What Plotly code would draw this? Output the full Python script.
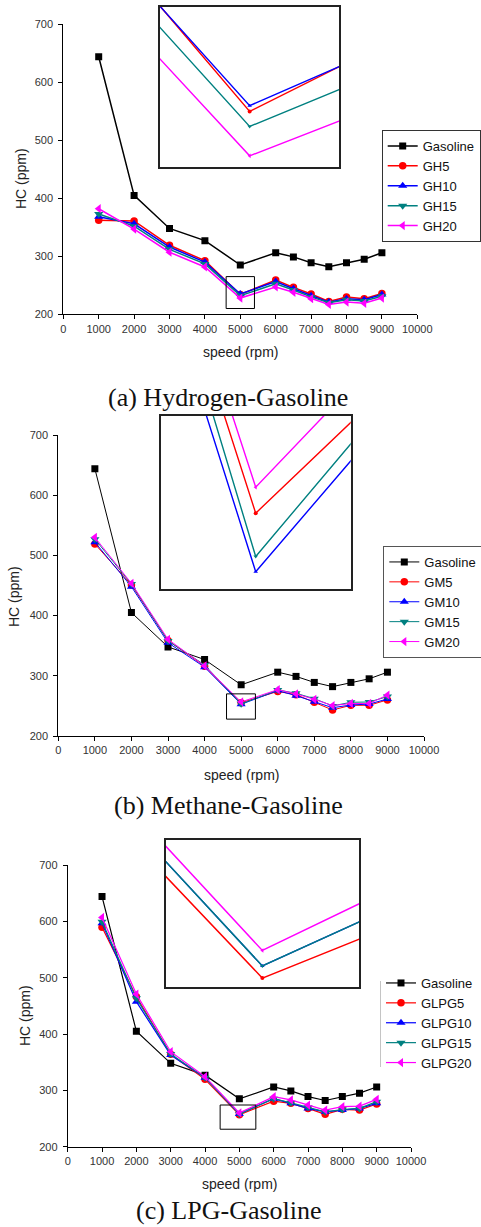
import plotly.graph_objects as go

W, H = 481, 1227

# ---------------- data ----------------
speed = [1000, 2000, 3000, 4000, 5000, 6000, 6500, 7000, 7500, 8000, 8500, 9000]
gasoline = [644, 405, 348, 327, 285, 306, 299, 289, 282, 289, 295, 306]

gh5 = [362, 361, 319, 292.5, 234.2, 259, 246.5, 235, 222, 230, 227, 236]
gh10 = [368, 356, 316, 290, 235, 256.6, 244, 232, 221, 227, 225, 234]
gh15 = [373, 352, 312, 286.9, 232.1, 252.5, 242, 230, 220, 225, 223, 231]
gh20 = [382, 347, 307, 281.6, 228, 247.2, 238, 227, 217, 221, 219, 228]

gm5 = [519, 451, 358.5, 316, 255.4, 274, 268.7, 256, 243.2, 251, 251, 260]
gm10 = [522, 448, 355, 314.4, 252.7, 275.4, 267, 257, 247, 251.5, 253, 261.5]
gm15 = [527, 452.5, 358, 318, 253.4, 276.5, 271, 262, 250, 256, 256.5, 265.5]
gm20 = [530, 453.6, 360.6, 316.5, 256.6, 277, 270, 261, 250.5, 254, 254, 268]

glpg5 = [589.4, 466.3, 364, 319.5, 256.8, 280.7, 277, 268, 257.4, 266.3, 265, 275.7]
glpg10 = [596.4, 457.4, 362.7, 322.6, 258.2, 285.3, 277, 268, 262, 265, 268, 277]
glpg15 = [599.4, 463.3, 364.5, 322.6, 258.2, 285.3, 278, 270, 262, 266, 268, 280]
glpg20 = [607, 471, 368.6, 324.3, 260, 288.7, 283, 274, 265, 271, 272, 284]

names_a = ["Gasoline", "GH5", "GH10", "GH15", "GH20"]
names_b = ["Gasoline", "GM5", "GM10", "GM15", "GM20"]
names_c = ["Gasoline", "GLPG5", "GLPG10", "GLPG15", "GLPG20"]
captions = ["(a) Hydrogen-Gasoline", "(b) Methane-Gasoline", "(c) LPG-Gasoline"]

# zoom windows (data units): marked box on main plot, and inset view ranges
box_a = [4600, 5400, 210, 265]
box_b = [4600, 5390, 228, 270]
box_c = [4440, 5480, 231, 274]
inset_x_a = [4748, 5252]
inset_y_a = [226.4, 248.8]
inset_x_b = [4775, 5225]
inset_y_b = [251.9, 259.9]
inset_x_c = [4812, 5188]
inset_y_c = [255.8, 272.8]

# ---------------- styling ----------------
colors = ["#000000", "#FF0000", "#0000FF", "#008080", "#FF00FF"]
symbols = ["square", "circle", "triangle-up", "triangle-down", "triangle-left"]
msizes = [7, 7.5, 8, 8, 8]
SANS = "Liberation Sans, Arial, sans-serif"
SERIF = "Liberation Serif, Times New Roman, serif"
TXT = "#222222"


def px_x(v):
    return v / W


def px_y(v):
    return 1 - v / H


panels = [
    dict(names=names_a, series=[gasoline, gh5, gh10, gh15, gh20], lw=1.5,
         plot=(63.3, 417.3, 24.3, 314.3), inset=(160, 339.3, 6.7, 167.3),
         ix=inset_x_a, iy=inset_y_a, box=box_a, legend=(381.7, 130), lborder="#333333",
         ytitle=(21, 179), xtitle=352, caption=(228.4, 397, "middle")),
    dict(names=names_b, series=[gasoline, gm5, gm10, gm15, gm20], lw=1.0,
         plot=(58.3, 424, 435, 736), inset=(160.7, 350.7, 415.7, 589),
         ix=inset_x_b, iy=inset_y_b, box=box_b, legend=(383.3, 546), lborder="#555555",
         ytitle=(14, 597), xtitle=775, caption=(228.7, 805, "middle")),
    dict(names=names_c, series=[gasoline, glpg5, glpg10, glpg15, glpg20], lw=1.2,
         plot=(67.7, 411, 865, 1146.7), inset=(165.7, 359, 840, 986.7),
         ix=inset_x_c, iy=inset_y_c, box=box_c, legend=(381, 968), lborder=None,
         ytitle=(25, 1016), xtitle=1184, caption=(229, 1227, "bottom")),
]

fig = go.Figure()
layout = dict(
    width=W, height=H, margin=dict(l=0, r=0, t=0, b=0, autoexpand=False),
    paper_bgcolor="white", plot_bgcolor="rgba(0,0,0,0)",
    font=dict(family=SANS, color=TXT),
    showlegend=True,
)
annotations = []
shapes = []

for i, p in enumerate(panels):
    mx = 2 * i + 1
    ix_n = 2 * i + 2
    xa_m = "x" if mx == 1 else f"x{mx}"
    ya_m = "y" if mx == 1 else f"y{mx}"
    xa_i, ya_i = f"x{ix_n}", f"y{ix_n}"
    leg = "legend" if i == 0 else f"legend{i + 1}"

    # main traces
    for k in range(5):
        fig.add_trace(go.Scatter(
            x=speed, y=p["series"][k], name=p["names"][k], mode="lines+markers",
            line=dict(color=colors[k], width=p["lw"]),
            marker=dict(symbol=symbols[k], size=msizes[k], color=colors[k]),
            xaxis=xa_m, yaxis=ya_m, legend=leg, showlegend=True,
        ))
    # inset traces (blends only)
    for k in range(1, 5):
        fig.add_trace(go.Scatter(
            x=speed, y=p["series"][k], name=p["names"][k], mode="lines+markers",
            line=dict(color=colors[k], width=1.4),
            marker=dict(symbol=symbols[k], size=4, color=colors[k]),
            xaxis=xa_i, yaxis=ya_i, showlegend=False, cliponaxis=True,
        ))

    l, r, t, b = p["plot"]
    key_x = "xaxis" if mx == 1 else f"xaxis{mx}"
    key_y = "yaxis" if mx == 1 else f"yaxis{mx}"
    layout[key_x] = dict(
        domain=[px_x(l), px_x(r)], range=[0, 10000], dtick=1000, tick0=0,
        tickformat="d", showgrid=False, zeroline=False, showline=True,
        linecolor="#000000", linewidth=1, ticks="outside", ticklen=4,
        tickcolor="#000000", tickfont=dict(size=11, family=SANS, color="#333333"),
        anchor=ya_m, fixedrange=True,
    )
    layout[key_y] = dict(
        domain=[px_y(b), px_y(t)], range=[200, 700], dtick=100, tick0=200,
        showgrid=False, zeroline=False, showline=True,
        linecolor="#000000", linewidth=1, ticks="outside", ticklen=4,
        tickcolor="#000000", tickfont=dict(size=11, family=SANS, color="#333333"),
        ticklabelstandoff=3, anchor=xa_m, fixedrange=True,
    )
    il, ir, it, ib = p["inset"]
    layout[f"xaxis{ix_n}"] = dict(
        domain=[px_x(il), px_x(ir)], range=p["ix"], showticklabels=False,
        ticks="", showgrid=False, zeroline=False, showline=True, mirror=True,
        linecolor="#222222", linewidth=1.5, anchor=ya_i, fixedrange=True,
    )
    layout[f"yaxis{ix_n}"] = dict(
        domain=[px_y(ib), px_y(it)], range=p["iy"], showticklabels=False,
        ticks="", showgrid=False, zeroline=False, showline=True, mirror=True,
        linecolor="#222222", linewidth=1.5, anchor=xa_i, fixedrange=True,
    )

    # marked region on main plot
    bx0, bx1, by0, by1 = p["box"]
    shapes.append(dict(type="rect", xref=xa_m, yref=ya_m, x0=bx0, x1=bx1, y0=by0, y1=by1,
                       line=dict(color="#000000", width=1), fillcolor="rgba(0,0,0,0)"))

    # legend
    lx, ly = p["legend"]
    layout[leg] = dict(
        x=px_x(lx), y=px_y(ly), xanchor="left", yanchor="top",
        xref="paper", yref="paper",
        bgcolor="white", bordercolor=p["lborder"] or "white",
        borderwidth=1 if p["lborder"] else 0,
        font=dict(size=13, family=SANS, color="#111111"),
        itemwidth=30, tracegroupgap=0,
    )
    if p["lborder"] is None:
        for xx in (lx, 476):
            shapes.append(dict(type="line", xref="paper", yref="paper",
                               x0=px_x(xx), x1=px_x(xx), y0=px_y(981), y1=px_y(1067),
                               line=dict(color="#888888", width=1)))

    # axis titles
    ytx, yty = p["ytitle"]
    annotations.append(dict(text="HC (ppm)", xref="paper", yref="paper",
                            x=px_x(ytx), y=px_y(yty), textangle=-90, showarrow=False,
                            xanchor="center", yanchor="middle",
                            font=dict(size=14, family=SANS, color=TXT)))
    annotations.append(dict(text="speed (rpm)", xref="paper", yref="paper",
                            x=px_x((l + r) / 2), y=px_y(p["xtitle"]), showarrow=False,
                            xanchor="center", yanchor="middle",
                            font=dict(size=14, family=SANS, color=TXT)))
    cx, cy, ya = p["caption"]
    annotations.append(dict(text=captions[i], xref="paper", yref="paper",
                            x=px_x(cx), y=px_y(cy), showarrow=False,
                            xanchor="center", yanchor=ya,
                            font=dict(size=26, family=SERIF, color="#111111")))

layout["annotations"] = annotations
layout["shapes"] = shapes
fig.update_layout(**layout)
fig.write_html("out.html")
